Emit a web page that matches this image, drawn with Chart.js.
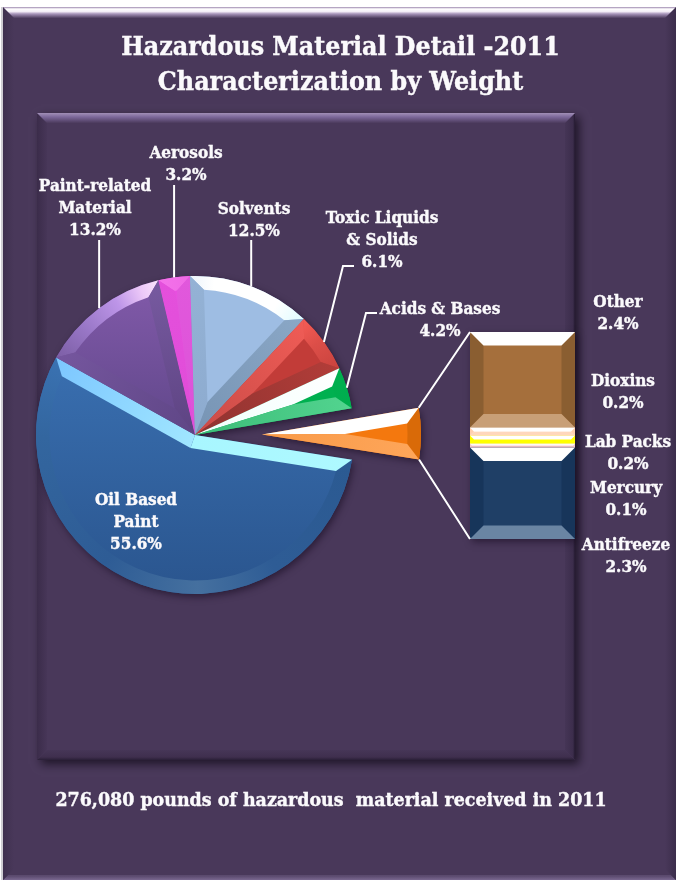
<!DOCTYPE html>
<html lang="en">
<head>
<meta charset="utf-8">
<title>Hazardous Material Detail 2011</title>
<script src="https://cdn.jsdelivr.net/npm/chart.js@4/dist/chart.umd.js"></script>
<style>
	html, body { margin: 0; padding: 0; background: #fff; overflow: hidden; }
	#stage { position: relative; width: 676px; height: 880px; }
	#stage canvas { position: absolute; left: 0; top: 0; }
</style>
</head>
<body>
<div id="stage">
	<canvas id="frame" width="676" height="880"></canvas>
	<canvas id="pie" width="676" height="880"></canvas>
	<canvas id="stack" width="676" height="880"></canvas>
</div>
<script>
const titleLines = ['Hazardous Material Detail -2011', 'Characterization by Weight'];
const footerText = '276,080 pounds of hazardous  material received in 2011';

const pieNames = ['Oil Based Paint', 'Paint-related Material', 'Aerosols', 'Solvents', 'Toxic Liquids & Solids', 'Acids & Bases'];
const pieValues = [55.6, 13.2, 3.2, 12.5, 6.1, 4.2];
const pieNameLines = [['Oil Based', 'Paint'], ['Paint-related', 'Material'], ['Aerosols'], ['Solvents'], ['Toxic Liquids', '& Solids'], ['Acids & Bases']];

const stackNames = ['Antifreeze', 'Mercury', 'Lab Packs', 'Dioxins', 'Other'];
const stackValues = [2.3, 0.1, 0.2, 0.2, 2.4];
const stackTotal = stackValues.reduce((sum, value) => sum + value, 0);

// label placement: centre x and first baseline for each block of text
const pieLabelSpots = [[136, 505], [95, 191], [186, 158], [254, 214], [382, 223], [440, 314]];
const stackLabelSpots = [[626, 550], [626, 493], [628, 447], [623, 386], [618, 307]];
// leader bends after the point on the rim; a null x keeps the line vertical
const pieLeaderBends = [null, [[null, 240]], [[null, 185]], [[null, 240]], [[343, 266], [354, 266]], [[366, 313], [377, 313]]];
// how far the last wedge sits away from the centre of the pie
const PULL_OUT = 67;

const BEVEL = 13.5;
const TEXT_FONT = 'bold 17px "DejaVu Serif Condensed", "Liberation Serif", serif';
const TITLE_FONT = 'bold 26.5px "DejaVu Serif Condensed", "Liberation Serif", serif';
const FOOTER_FONT = 'bold 19.4px "DejaVu Serif Condensed", "Liberation Serif", serif';
const LINE_GAP = 22;
const SHADOW = 'rgba(20, 10, 30, 0.55)';

// bevel faces of each wedge: two straight edges (inner to outer) and colour stops along the rim
const pieFaces = [
	{ start: ['#a8f6ff', '#aef9ff'], end: ['#a0e6ff', '#7cc6ff'], rim: [[0, '#2b5a92'], [0.25, '#2e5c95'], [0.4, '#45709f'], [0.58, '#2e5c95'], [0.85, '#33669f'], [1, '#3a72b2']] },
	{ start: ['#5f4686', '#75569e'], end: ['#5d4382', '#775aa0'], rim: [[0, '#7c5ea5'], [0.33, '#9a78c8'], [0.64, '#bd95e8'], [0.85, '#ecc8f8'], [1, '#fbe4fc']] },
	{ start: ['#e04cd8', '#e450dc'], end: ['#dd52d8', '#e158dc'], rim: [[0, '#f472ea'], [1, '#ef6ae6']] },
	{ start: ['#8dabcf', '#94b2d5'], end: ['#7794b4', '#8aa7c6'], rim: [[0, '#ecf4fb'], [0.2, '#ffffff'], [0.75, '#ffffff'], [1, '#dffbff']] },
	{ start: ['#c94b47', '#f05c56'], end: ['#8f3330', '#b23d39'], rim: [[0, '#f45c55'], [0.45, '#dc4e48'], [1, '#c9433e']] },
	{ start: ['#f0fffc', '#ffffff'], end: ['#3cbc78', '#52d48f'], rim: [[0, '#00b04f'], [1, '#00ad4e']] },
	{ start: ['#ffffff', '#ffffff'], end: ['#f99a48', '#fea65a'], rim: [[0, '#d96a08'], [1, '#d96a08']] },
];
const pieBodies = [null, null, '#e84fdf', '#9ebde3', '#c23c38', '#00b050', '#f4780e'];

const stackFaces = [
	{ body: '#1f3f66', top: '#ffffff', side: '#17355a', bottom: '#6a85a3' },
	{ body: '#fff3f0', top: '#fff8f8', side: '#f3c6c8', bottom: '#eab9bf' },
	{ body: '#ffff00', top: '#ffffff', side: '#ffff00', bottom: '#ffff00' },
	{ body: '#ffe8d8', top: '#ffffff', side: '#ffcfae', bottom: '#ffd7bc' },
	{ body: '#a56f3c', top: '#ffffff', side: '#8a5e31', bottom: '#c89f77' },
];

function fillPolygon(ctx, points, fill) {
	ctx.beginPath();
	points.forEach(([x, y], i) => (i === 0 ? ctx.moveTo(x, y) : ctx.lineTo(x, y)));
	ctx.closePath();
	ctx.fillStyle = fill;
	ctx.fill();
}

function drawTextBlock(ctx, lines, x, y, font, gap) {
	ctx.save();
	ctx.font = font;
	ctx.fillStyle = '#fbfafc';
	// a hairline stroke gives the serif face more weight
	ctx.strokeStyle = '#fbfafc';
	ctx.lineWidth = 0.4;
	ctx.textAlign = 'center';
	ctx.textBaseline = 'alphabetic';
	lines.forEach((line, i) => {
		ctx.fillText(line, x, y + i * gap);
		ctx.strokeText(line, x, y + i * gap);
	});
	ctx.restore();
}

// the raised panels behind everything
function drawPanel(ctx, x, y, right, bottom, d, faces) {
	fillPolygon(ctx, [[x, y], [x + d, y + d], [x + d, bottom - d], [x, bottom]], faces.left);
	fillPolygon(ctx, [[right, y], [right - d, y + d], [right - d, bottom - d], [right, bottom]], faces.right);
	fillPolygon(ctx, [[x, bottom], [x + d, bottom - d], [right - d, bottom - d], [right, bottom]], faces.bottom);
	const topFace = ctx.createLinearGradient(0, y, 0, y + d);
	faces.top.forEach(([stop, colour]) => topFace.addColorStop(stop, colour));
	fillPolygon(ctx, [[x, y], [right, y], [right - d, y + d], [x + d, y + d]], topFace);
}

function initFrame() {
	const ctx = document.getElementById('frame').getContext('2d');
	ctx.fillStyle = '#ffffff';
	ctx.fillRect(0, 0, 676, 880);
	ctx.fillStyle = '#cfcdd3';
	ctx.fillRect(1, 7, 2, 873);
	ctx.fillStyle = '#49385a';
	ctx.fillRect(3, 7, 673, 873);

	const sideLeft = ctx.createLinearGradient(3, 0, 14, 0);
	sideLeft.addColorStop(0, '#3f304f');
	sideLeft.addColorStop(1, '#49385a');
	const sideRight = ctx.createLinearGradient(665, 0, 676, 0);
	sideRight.addColorStop(0, '#49385a');
	sideRight.addColorStop(1, '#3b2d4b');
	const outerBottom = ctx.createLinearGradient(0, 876, 0, 880);
	outerBottom.addColorStop(0, '#5b4a6e');
	outerBottom.addColorStop(1, '#7a6890');
	drawPanel(ctx, 3, 7, 676, 880, 5, { left: '#49385a', right: '#49385a', bottom: outerBottom, top: [[0, '#49385a'], [1, '#49385a']] });
	fillPolygon(ctx, [[3, 7], [14, 18], [14, 869], [3, 880]], sideLeft);
	fillPolygon(ctx, [[676, 7], [665, 18], [665, 869], [676, 880]], sideRight);
	const outerTop = ctx.createLinearGradient(0, 7, 0, 18);
	[[0, '#9c87ae'], [0.18, '#ffffff'], [0.42, '#f3ecf6'], [0.62, '#a996bb'], [1, '#4f3e60']].forEach(([stop, colour]) => outerTop.addColorStop(stop, colour));
	fillPolygon(ctx, [[3, 7], [676, 7], [665, 18], [14, 18]], outerTop);

	// inner panel with its soft shadow to the lower right
	ctx.save();
	ctx.shadowColor = 'rgba(15, 8, 22, 0.75)';
	ctx.shadowBlur = 9;
	ctx.shadowOffsetX = 4;
	ctx.shadowOffsetY = 4;
	ctx.fillStyle = '#49385a';
	ctx.fillRect(37, 113, 538, 647);
	ctx.restore();
	const innerLeft = ctx.createLinearGradient(37, 0, 47, 0);
	innerLeft.addColorStop(0, '#3b2c4a');
	innerLeft.addColorStop(1, '#473658');
	const innerRight = ctx.createLinearGradient(565, 0, 575, 0);
	innerRight.addColorStop(0, '#453556');
	innerRight.addColorStop(0.8, '#3c2d4c');
	innerRight.addColorStop(1, '#241a30');
	const innerBottom = ctx.createLinearGradient(0, 750, 0, 760);
	innerBottom.addColorStop(0, '#463657');
	innerBottom.addColorStop(0.7, '#3f2f4e');
	innerBottom.addColorStop(1, '#2a1f37');
	drawPanel(ctx, 37, 113, 575, 760, 10, {
		left: innerLeft,
		right: innerRight,
		bottom: innerBottom,
		top: [[0, '#a18fb7'], [0.4, '#7c689a'], [1, '#4c3b5d']],
	});
}

function wedgeOf(arc) {
	return {
		x: arc.x,
		y: arc.y,
		r: arc.outerRadius,
		a0: arc.startAngle,
		a1: arc.endAngle,
		mid: (arc.startAngle + arc.endAngle) / 2,
	};
}

function rimPoint(w, angle, radius) {
	return [w.x + Math.cos(angle) * radius, w.y + Math.sin(angle) * radius];
}

function drawWedgeBevel(ctx, w, faces) {
	const half = (w.a1 - w.a0) / 2;
	const innerR = w.r - BEVEL;
	const apexDist = Math.min(BEVEL / Math.sin(half), innerR * 0.98);
	const apex = rimPoint(w, w.mid, apexDist);
	const tilt = Math.asin(BEVEL / innerR);
	const in0 = w.a0 + tilt;
	const in1 = w.a1 - tilt;

	const edgeFill = (angle, colours) => {
		const [ox, oy] = rimPoint(w, angle, w.r);
		const grad = ctx.createLinearGradient(w.x, w.y, ox, oy);
		grad.addColorStop(0, colours[0]);
		grad.addColorStop(1, colours[1]);
		return grad;
	};

	const rimFill = ctx.createConicGradient(w.a0, w.x, w.y);
	faces.rim.forEach(([stop, colour]) => rimFill.addColorStop(stop * (w.a1 - w.a0) / (Math.PI * 2), colour));
	ctx.beginPath();
	ctx.arc(w.x, w.y, w.r, w.a0, w.a1);
	ctx.arc(w.x, w.y, innerR, in1, in0, true);
	ctx.closePath();
	ctx.fillStyle = rimFill;
	ctx.fill();

	fillPolygon(ctx, [[w.x, w.y], rimPoint(w, w.a0, w.r), rimPoint(w, in0, innerR), apex], edgeFill(w.a0, faces.start));
	fillPolygon(ctx, [[w.x, w.y], rimPoint(w, w.a1, w.r), rimPoint(w, in1, innerR), apex], edgeFill(w.a1, faces.end));
}

const wedgePlugin = {
	id: 'wedgeBevel',
	// the arc's own offset option also grows its radius, so the wedge is moved as a whole
	afterDatasetsUpdate(chart) {
		const arcs = chart.getDatasetMeta(0).data;
		const pulled = arcs[arcs.length - 1];
		const mid = (pulled.startAngle + pulled.endAngle) / 2;
		pulled.x += Math.cos(mid) * PULL_OUT;
		pulled.y += Math.sin(mid) * PULL_OUT;
	},
	beforeDatasetsDraw(chart) {
		const { ctx } = chart;
		ctx.save();
		ctx.shadowColor = SHADOW;
		ctx.shadowBlur = 7;
		ctx.shadowOffsetX = 2;
		ctx.shadowOffsetY = 3;
		ctx.fillStyle = '#3a2b4a';
		chart.getDatasetMeta(0).data.forEach((arc) => {
			const w = wedgeOf(arc);
			ctx.beginPath();
			ctx.moveTo(w.x, w.y);
			ctx.arc(w.x, w.y, w.r, w.a0, w.a1);
			ctx.closePath();
			ctx.fill();
		});
		ctx.restore();
	},
	afterDatasetsDraw(chart) {
		const { ctx } = chart;
		const arcs = chart.getDatasetMeta(0).data;
		arcs.forEach((arc, i) => drawWedgeBevel(ctx, wedgeOf(arc), pieFaces[i]));

		// leaders from the middle of each rim to its label
		ctx.save();
		ctx.strokeStyle = '#ffffff';
		ctx.lineWidth = 2;
		pieLeaderBends.forEach((bends, i) => {
			if (!bends) {
				return;
			}
			const w = wedgeOf(arcs[i]);
			const [sx, sy] = rimPoint(w, w.mid, w.r);
			ctx.beginPath();
			ctx.moveTo(sx, sy);
			bends.forEach(([bx, by]) => ctx.lineTo(bx === null ? sx : bx, by));
			ctx.stroke();
		});
		ctx.restore();

		drawTextBlock(ctx, titleLines, 340.5, 55, TITLE_FONT, 35);
		drawTextBlock(ctx, [footerText], 331, 806, FOOTER_FONT, 0);
		pieNameLines.forEach((lines, i) => {
			const [x, y] = pieLabelSpots[i];
			drawTextBlock(ctx, [...lines, `${pieValues[i].toFixed(1)}%`], x, y, TEXT_FONT, LINE_GAP);
		});
	},
};

const stackPlugin = {
	id: 'stackBevel',
	beforeDatasetsDraw(chart) {
		const { ctx, chartArea } = chart;
		ctx.save();
		ctx.shadowColor = SHADOW;
		ctx.shadowBlur = 7;
		ctx.shadowOffsetX = 2;
		ctx.shadowOffsetY = 3;
		ctx.fillStyle = '#3a2b4a';
		ctx.fillRect(chartArea.left, chartArea.top, chartArea.right - chartArea.left, chartArea.bottom - chartArea.top);
		ctx.restore();
	},
	afterDatasetsDraw(chart) {
		const { ctx, chartArea } = chart;
		stackValues.forEach((value, i) => {
			const bar = chart.getDatasetMeta(i).data[0];
			const { x, y, base, width } = bar.getProps(['x', 'y', 'base', 'width']);
			const left = x - width / 2;
			const right = x + width / 2;
			const d = Math.min(BEVEL, (base - y) / 2);
			const faces = stackFaces[i];
			fillPolygon(ctx, [[left, y], [left + d, y + d], [left + d, base - d], [left, base]], faces.side);
			fillPolygon(ctx, [[right, y], [right - d, y + d], [right - d, base - d], [right, base]], faces.side);
			fillPolygon(ctx, [[left, base], [left + d, base - d], [right - d, base - d], [right, base]], faces.bottom);
			fillPolygon(ctx, [[left, y], [right, y], [right - d, y + d], [left + d, y + d]], faces.top);
		});

		// connectors from the pulled-out wedge to the stack
		const pulled = wedgeOf(pieChart.getDatasetMeta(0).data[pieValues.length]);
		ctx.save();
		ctx.strokeStyle = '#ffffff';
		ctx.lineWidth = 2;
		ctx.beginPath();
		ctx.moveTo(...rimPoint(pulled, pulled.a0, pulled.r));
		ctx.lineTo(chartArea.left, chartArea.top);
		ctx.moveTo(...rimPoint(pulled, pulled.a1, pulled.r));
		ctx.lineTo(chartArea.left, chartArea.bottom);
		ctx.stroke();
		ctx.restore();

		stackNames.forEach((name, i) => {
			const [x, y] = stackLabelSpots[i];
			drawTextBlock(ctx, [name, `${stackValues[i].toFixed(1)}%`], x, y, TEXT_FONT, LINE_GAP);
		});
	},
};

function verticalFill(ctx, topY, bottomY, topColour, bottomColour) {
	const grad = ctx.createLinearGradient(0, topY, 0, bottomY);
	grad.addColorStop(0, topColour);
	grad.addColorStop(1, bottomColour);
	return grad;
}

let pieChart = null;

function initPie() {
	const canvas = document.getElementById('pie');
	const ctx = canvas.getContext('2d');
	const fills = pieBodies.slice();
	fills[0] = verticalFill(ctx, 330, 594, '#3b72b4', '#2a558e');
	fills[1] = verticalFill(ctx, 290, 435, '#8059a8', '#60478a');

	pieChart = new Chart(ctx, {
		type: 'pie',
		data: {
			labels: [...pieNames, 'Other'],
			datasets: [{
				data: [...pieValues, stackTotal],
				backgroundColor: fills,
				borderWidth: 0,
				clip: false,
			}],
		},
		options: {
			responsive: false,
			animation: false,
			rotation: 99,
			radius: 159,
			layout: { padding: { left: 0, right: 286, top: 241, bottom: 251 } },
			plugins: { legend: { display: false }, tooltip: { enabled: false } },
		},
		plugins: [wedgePlugin],
	});
}

function initStack() {
	new Chart(document.getElementById('stack').getContext('2d'), {
		type: 'bar',
		data: {
			labels: ['Other'],
			datasets: stackNames.map((name, i) => ({
				label: name,
				data: [stackValues[i]],
				backgroundColor: stackFaces[i].body,
				borderWidth: 0,
				categoryPercentage: 1,
				barPercentage: 1,
			})),
		},
		options: {
			responsive: false,
			animation: false,
			layout: { padding: { left: 470, right: 101, top: 332, bottom: 341 } },
			scales: {
				x: { stacked: true, display: false },
				y: { stacked: true, display: false, min: 0, max: stackTotal },
			},
			plugins: { legend: { display: false }, tooltip: { enabled: false } },
		},
		plugins: [stackPlugin],
	});
}

initFrame();
initPie();
initStack();
</script>
</body>
</html>
